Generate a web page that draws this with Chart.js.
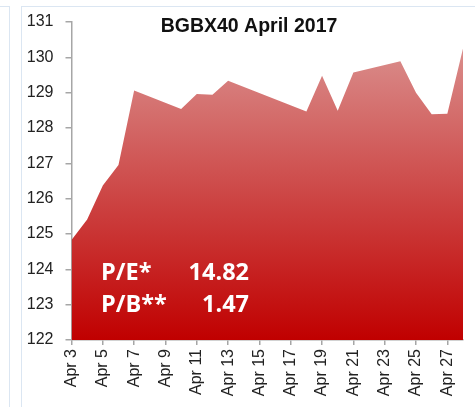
<!DOCTYPE html>
<html>
<head>
<meta charset="utf-8">
<script src="https://cdn.jsdelivr.net/npm/chart.js@4/dist/chart.umd.min.js"></script>
<style>
  html, body { margin: 0; padding: 0; background: #fff; }
  #wrap { position: relative; width: 475px; height: 407px; overflow: hidden; }
  .frameL { position: absolute; left: 0; top: 6px; width: 10px; height: 401px;
            border-top: 1px solid #dbe6f2; border-right: 1px solid #dbe6f2; box-sizing: border-box; }
  .frameR { position: absolute; left: 21px; top: 6px; width: 460px; height: 401px;
            border-top: 1px solid #dbe6f2; border-left: 1px solid #dbe6f2; box-sizing: border-box; }
  canvas { position: absolute; left: 0; top: 0; }
</style>
</head>
<body>
<div id="wrap">
  <div class="frameL"></div>
  <div class="frameR"></div>
  <canvas id="mycanvas" width="475" height="407"></canvas>
</div>
<script>
// every calendar day of the period; null = no trading (weekend / holiday)
var days = ['Apr 3','Apr 4','Apr 5','Apr 6','Apr 7','Apr 8','Apr 9','Apr 10','Apr 11','Apr 12',
  'Apr 13','Apr 14','Apr 15','Apr 16','Apr 17','Apr 18','Apr 19','Apr 20','Apr 21','Apr 22',
  'Apr 23','Apr 24','Apr 25','Apr 26','Apr 27','Apr 28'];
var index = [124.83, 125.41, 126.37, 126.95, 129.06, null, null, 128.54, 128.96, 128.94,
  129.34, null, null, null, null, 128.47, 129.48, 128.49, 129.57, null,
  null, 129.89, 129.00, 128.39, 128.40, 130.25];
var title = 'BGBX40 April 2017';
var ratioNames = ['P/E*', 'P/B**'];
var ratioValues = ['14.82', '1.47'];

var textPlugin = {
  id: 'texts',
  afterDraw: function(chart){
    var ctx = chart.ctx;
    ctx.save();
    ctx.fillStyle = '#111';
    ctx.font = 'bold 19.5px "Liberation Sans", Arial, sans-serif';
    ctx.textAlign = 'center';
    ctx.textBaseline = 'alphabetic';
    ctx.fillText(title, 249, 31.5);
    ctx.fillStyle = '#fff';
    ctx.font = 'bold 23.5px "Open Sans", sans-serif';
    for(var i=0;i<ratioNames.length;i++){
      var y = 280 + i*31.7;
      ctx.textAlign = 'left';
      ctx.fillText(ratioNames[i], 101, y);
      ctx.textAlign = 'right';
      ctx.fillText(ratioValues[i], 249, y);
    }
    ctx.restore();
  }
};

var ctx = document.getElementById('mycanvas');
var chart = new Chart(ctx, {
  type: 'line',
  data: {
    labels: days,
    datasets: [{
      label: 'BGBX40',
      data: index,
      spanGaps: true,
      fill: 'start',
      borderWidth: 0,
      pointRadius: 0,
      tension: 0,
      backgroundColor: function(c){
        var a = c.chart.chartArea;
        if(!a) return '#c00000';
        var g = c.chart.ctx.createLinearGradient(0, a.top, 0, a.bottom);
        g.addColorStop(0, '#dc9a98');
        g.addColorStop(1, '#c00000');
        return g;
      }
    }]
  },
  options: {
    responsive: false,
    animation: false,
    layout: { padding: { left: 26.5, right: 12, top: 22, bottom: 4 } },
    plugins: { legend: { display: false }, tooltip: { enabled: false } },
    scales: {
      x: {
        offset: false,
        border: { color: '#a6a6a6', width: 1.5 },
        grid: { display: true, drawOnChartArea: false, tickLength: 5, color: '#a6a6a6', lineWidth: 1.5 },
        ticks: {
          autoSkip: false, minRotation: 90, maxRotation: 90, padding: 4,
          color: '#222', font: { family: '"Liberation Sans", Arial, sans-serif', size: 16 },
          callback: function(v, i){ return i % 2 === 0 ? days[i] : null; }
        },
        afterFit: function(s){ s.height = 63; }
      },
      y: {
        min: 122, max: 131,
        border: { color: '#a6a6a6', width: 1.5 },
        grid: { display: true, drawOnChartArea: false, tickLength: 6, color: '#a6a6a6', lineWidth: 1.5 },
        ticks: {
          stepSize: 1, padding: 12,
          color: '#222', font: { family: '"Liberation Sans", Arial, sans-serif', size: 16 }
        },
        afterFit: function(s){ s.width = 45; }
      }
    }
  },
  plugins: [textPlugin]
});
</script>
</body>
</html>
